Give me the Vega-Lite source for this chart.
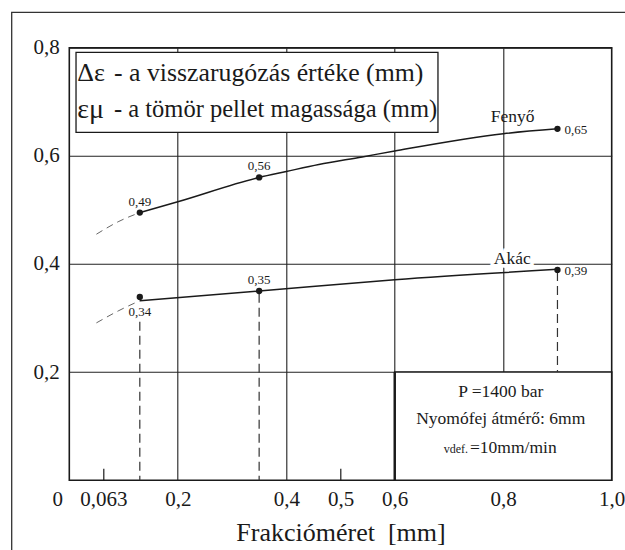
{
  "$schema": "https://vega.github.io/schema/vega-lite/v6.json",
  "width": 542.4,
  "height": 432.5,
  "autosize": {"type": "none"},
  "padding": {"left": 69.3, "top": 47.7, "right": 13.3, "bottom": 69.8},
  "background": "white",
  "config": {
    "view": {"stroke": "#1a1a1a", "strokeWidth": 1.6},
    "font": "Liberation Serif",
    "text": {"font": "Liberation Serif"},
    "axis": {"labelFont": "Liberation Serif", "titleFont": "Liberation Serif", "labelColor": "#1a1a1a", "titleColor": "#1a1a1a", "titleFontWeight": "normal"}
  },
  "datasets": {
    "one": [{}],
    "curves": [
      {"species": "Fenyő", "d": 0.13, "v": 0.495},
      {"species": "Fenyő", "d": 0.2, "v": 0.515},
      {"species": "Fenyő", "d": 0.35, "v": 0.56},
      {"species": "Fenyő", "d": 0.4, "v": 0.571},
      {"species": "Fenyő", "d": 0.46, "v": 0.584},
      {"species": "Fenyő", "d": 0.54, "v": 0.598},
      {"species": "Fenyő", "d": 0.6, "v": 0.609},
      {"species": "Fenyő", "d": 0.8, "v": 0.641},
      {"species": "Fenyő", "d": 0.9, "v": 0.65},
      {"species": "Akác", "d": 0.13, "v": 0.332},
      {"species": "Akác", "d": 0.35, "v": 0.35},
      {"species": "Akác", "d": 0.6, "v": 0.371},
      {"species": "Akác", "d": 0.9, "v": 0.39}
    ],
    "ext": [
      {"species": "Fenyő", "d": 0.05, "v": 0.455},
      {"species": "Fenyő", "d": 0.09, "v": 0.478},
      {"species": "Fenyő", "d": 0.13, "v": 0.495},
      {"species": "Akác", "d": 0.05, "v": 0.291},
      {"species": "Akác", "d": 0.09, "v": 0.313},
      {"species": "Akác", "d": 0.13, "v": 0.332}
    ],
    "pts": [
      {"species": "Fenyő", "d": 0.13, "v": 0.495, "label": "0,49"},
      {"species": "Fenyő", "d": 0.35, "v": 0.56, "label": "0,56"},
      {"species": "Fenyő", "d": 0.9, "v": 0.65, "label": "0,65"},
      {"species": "Akác", "d": 0.13, "v": 0.339, "label": "0,34"},
      {"species": "Akác", "d": 0.35, "v": 0.35, "label": "0,35"},
      {"species": "Akác", "d": 0.9, "v": 0.389, "label": "0,39"}
    ],
    "drops": [
      {"d": 0.13, "top": 0.293, "bottom": 0},
      {"d": 0.35, "top": 0.345, "bottom": 0},
      {"d": 0.9, "top": 0.385, "bottom": 0.2}
    ]
  },
  "resolve": {"axis": {"x": "independent", "y": "independent"}},
  "layer": [
    {
      "data": {"name": "one"},
      "mark": {"type": "rect", "fillOpacity": 0, "stroke": "#333333", "strokeWidth": 1.3},
      "encoding": {
        "x": {"datum": -0.1062, "type": "quantitative", "scale": {"domain": [0, 1], "nice": false, "zero": false}, "axis": null},
        "x2": {"datum": 1.3},
        "y": {"datum": 0.8655, "type": "quantitative", "scale": {"domain": [0, 0.8], "nice": false, "zero": false}, "axis": null},
        "y2": {"datum": -0.4}
      }
    },
    {
      "data": {"name": "ext"},
      "mark": {"type": "line", "interpolate": "monotone", "strokeDash": [7, 5], "strokeWidth": 0.9, "color": "#555555"},
      "encoding": {
        "x": {"field": "d", "type": "quantitative", "scale": {"domain": [0, 1], "nice": false, "zero": false},
          "axis": {"orient": "bottom", "values": [0.2, 0.4, 0.6, 0.8], "grid": true, "gridColor": "#222222", "gridWidth": 1.1, "ticks": false, "labels": false, "domain": false, "title": null}},
        "y": {"field": "v", "type": "quantitative", "scale": {"domain": [0, 0.8], "nice": false, "zero": false},
          "axis": {"orient": "left", "values": [0.2, 0.4, 0.6, 0.8], "grid": true, "gridColor": "#222222", "gridWidth": 1.1, "ticks": false, "domain": false, "labelFontSize": 21, "labelPadding": 10, "labelExpr": "replace(format(datum.value, '.1f'), '.', ',')", "title": null}},
        "detail": {"field": "species"}
      }
    },
    {
      "data": {"name": "one"},
      "mark": {"type": "rect", "fill": "white", "stroke": "#1a1a1a", "strokeWidth": 1.3},
      "encoding": {
        "x": {"datum": 0.0124, "type": "quantitative", "axis": null},
        "x2": {"datum": 0.6797},
        "y": {"datum": 0.7915, "type": "quantitative", "axis": null},
        "y2": {"datum": 0.6435}
      }
    },
    {
      "data": {"name": "one"},
      "mark": {"type": "rect", "fill": "white", "stroke": "#1a1a1a", "strokeWidth": 1.6},
      "encoding": {
        "x": {"datum": 0.6, "type": "quantitative", "axis": null},
        "x2": {"datum": 1.0},
        "y": {"datum": 0.2, "type": "quantitative", "axis": null},
        "y2": {"datum": 0}
      }
    },
    {
      "data": {"name": "one"},
      "mark": {"type": "rule", "stroke": "#1a1a1a", "strokeWidth": 2.4},
      "encoding": {
        "x": {"datum": 0.6, "type": "quantitative", "axis": null},
        "y": {"datum": 0.2, "type": "quantitative", "axis": null},
        "y2": {"datum": 0}
      }
    },
    {
      "data": {"name": "one"},
      "mark": {"type": "text", "text": "Δε", "align": "left", "baseline": "middle", "fontSize": 26, "color": "#1a1a1a"},
      "encoding": {"x": {"datum": 0.0148, "type": "quantitative", "axis": null}, "y": {"datum": 0.7526, "type": "quantitative", "axis": null}}
    },
    {
      "data": {"name": "one"},
      "mark": {"type": "text", "text": "- a visszarugózás értéke (mm)", "align": "left", "baseline": "middle", "fontSize": 25.8, "color": "#1a1a1a"},
      "encoding": {"x": {"datum": 0.0824, "type": "quantitative", "axis": null}, "y": {"datum": 0.7526, "type": "quantitative", "axis": null}}
    },
    {
      "data": {"name": "one"},
      "mark": {"type": "text", "text": "εμ", "align": "left", "baseline": "middle", "fontSize": 28, "color": "#1a1a1a"},
      "encoding": {"x": {"datum": 0.0148, "type": "quantitative", "axis": null}, "y": {"datum": 0.6848, "type": "quantitative", "axis": null}}
    },
    {
      "data": {"name": "one"},
      "mark": {"type": "text", "text": "- a tömör pellet magassága (mm)", "align": "left", "baseline": "middle", "fontSize": 24.5, "color": "#1a1a1a"},
      "encoding": {"x": {"datum": 0.0824, "type": "quantitative", "axis": null}, "y": {"datum": 0.6848, "type": "quantitative", "axis": null}}
    },
    {
      "data": {"name": "one"},
      "mark": {"type": "text", "text": "P =1400 bar", "align": "center", "baseline": "middle", "fontSize": 17.5, "color": "#1a1a1a"},
      "encoding": {"x": {"datum": 0.7954, "type": "quantitative", "axis": null}, "y": {"datum": 0.163, "type": "quantitative", "axis": null}}
    },
    {
      "data": {"name": "one"},
      "mark": {"type": "text", "text": "Nyomófej átmérő: 6mm", "align": "center", "baseline": "middle", "fontSize": 17.5, "color": "#1a1a1a"},
      "encoding": {"x": {"datum": 0.7954, "type": "quantitative", "axis": null}, "y": {"datum": 0.1133, "type": "quantitative", "axis": null}}
    },
    {
      "data": {"name": "one"},
      "mark": {"type": "text", "text": "vdef.", "align": "right", "baseline": "alphabetic", "fontSize": 12, "color": "#1a1a1a"},
      "encoding": {"x": {"datum": 0.735, "type": "quantitative", "axis": null}, "y": {"datum": 0.0503, "type": "quantitative", "axis": null}}
    },
    {
      "data": {"name": "one"},
      "mark": {"type": "text", "text": "=10mm/min", "align": "left", "baseline": "alphabetic", "fontSize": 17.5, "color": "#1a1a1a"},
      "encoding": {"x": {"datum": 0.7387, "type": "quantitative", "axis": null}, "y": {"datum": 0.0503, "type": "quantitative", "axis": null}}
    },
    {
      "data": {"name": "drops"},
      "mark": {"type": "rule", "strokeDash": [9, 5], "strokeWidth": 1.2, "color": "#333333"},
      "encoding": {
        "x": {"field": "d", "type": "quantitative",
          "axis": {"orient": "bottom", "values": [0.063, 0.5], "ticks": true, "tickSize": 12, "tickColor": "#1a1a1a", "tickWidth": 1.2, "offset": -12, "labels": false, "domain": false, "grid": false, "title": null}},
        "y": {"field": "top", "type": "quantitative", "axis": null},
        "y2": {"field": "bottom"}
      }
    },
    {
      "data": {"name": "one"},
      "mark": {"type": "text", "text": "Akác", "align": "center", "baseline": "middle", "fontSize": 17.5, "color": "white", "stroke": "white", "strokeWidth": 7},
      "encoding": {"x": {"datum": 0.8168, "type": "quantitative", "axis": null}, "y": {"datum": 0.4092, "type": "quantitative", "axis": null}}
    },
    {
      "data": {"name": "curves"},
      "mark": {"type": "line", "interpolate": "monotone", "strokeWidth": 1.5, "color": "#1a1a1a"},
      "encoding": {
        "x": {"field": "d", "type": "quantitative",
          "axis": {"orient": "bottom", "values": [0, 0.063, 0.2, 0.4, 0.5, 0.6, 0.8, 1], "grid": false, "ticks": false, "domain": false, "labelFontSize": 21, "labelPadding": 8, "labelFlush": false, "labelOverlap": false,
            "labelExpr": "datum.value == 0 ? '0' : (abs(datum.value - 0.063) < 0.001 ? '0,063' : replace(format(datum.value, '.1f'), '.', ','))",
            "labelOffset": {"condition": {"test": "datum.value == 0", "value": -12}, "value": 0},
            "title": "Frakcióméret\u00a0\u00a0[mm]", "titleFontSize": 26, "titlePadding": 10, "titleFontWeight": "normal"}},
        "y": {"field": "v", "type": "quantitative", "axis": null},
        "detail": {"field": "species"}
      }
    },
    {
      "data": {"name": "pts"},
      "mark": {"type": "point", "filled": true, "size": 40, "opacity": 1, "color": "#1a1a1a"},
      "encoding": {
        "x": {"field": "d", "type": "quantitative", "axis": null},
        "y": {"field": "v", "type": "quantitative", "axis": null}
      }
    },
    {
      "data": {"name": "pts"},
      "transform": [{"filter": "datum.label == '0,49' || datum.label == '0,56' || datum.label == '0,35'"}],
      "mark": {"type": "text", "align": "center", "baseline": "middle", "dy": -11, "fontSize": 13, "color": "#1a1a1a"},
      "encoding": {
        "x": {"field": "d", "type": "quantitative", "axis": null},
        "y": {"field": "v", "type": "quantitative", "axis": null},
        "text": {"field": "label"}
      }
    },
    {
      "data": {"name": "pts"},
      "transform": [{"filter": "datum.label == '0,65' || datum.label == '0,39'"}],
      "mark": {"type": "text", "align": "left", "baseline": "middle", "dx": 7, "dy": 1, "fontSize": 13, "color": "#1a1a1a"},
      "encoding": {
        "x": {"field": "d", "type": "quantitative", "axis": null},
        "y": {"field": "v", "type": "quantitative", "axis": null},
        "text": {"field": "label"}
      }
    },
    {
      "data": {"name": "pts"},
      "transform": [{"filter": "datum.label == '0,34'"}],
      "mark": {"type": "text", "align": "center", "baseline": "middle", "dy": 15, "fontSize": 13, "color": "#1a1a1a"},
      "encoding": {
        "x": {"field": "d", "type": "quantitative", "axis": null},
        "y": {"field": "v", "type": "quantitative", "axis": null},
        "text": {"field": "label"}
      }
    },
    {
      "data": {"name": "one"},
      "mark": {"type": "text", "text": "Fenyő", "align": "center", "baseline": "middle", "fontSize": 17.5, "color": "#1a1a1a"},
      "encoding": {"x": {"datum": 0.8174, "type": "quantitative", "axis": null}, "y": {"datum": 0.6713, "type": "quantitative", "axis": null}}
    },
    {
      "data": {"name": "one"},
      "mark": {"type": "text", "text": "Akác", "align": "center", "baseline": "middle", "fontSize": 17.5, "color": "#1a1a1a"},
      "encoding": {"x": {"datum": 0.8168, "type": "quantitative", "axis": null}, "y": {"datum": 0.4092, "type": "quantitative", "axis": null}}
    }
  ]
}
